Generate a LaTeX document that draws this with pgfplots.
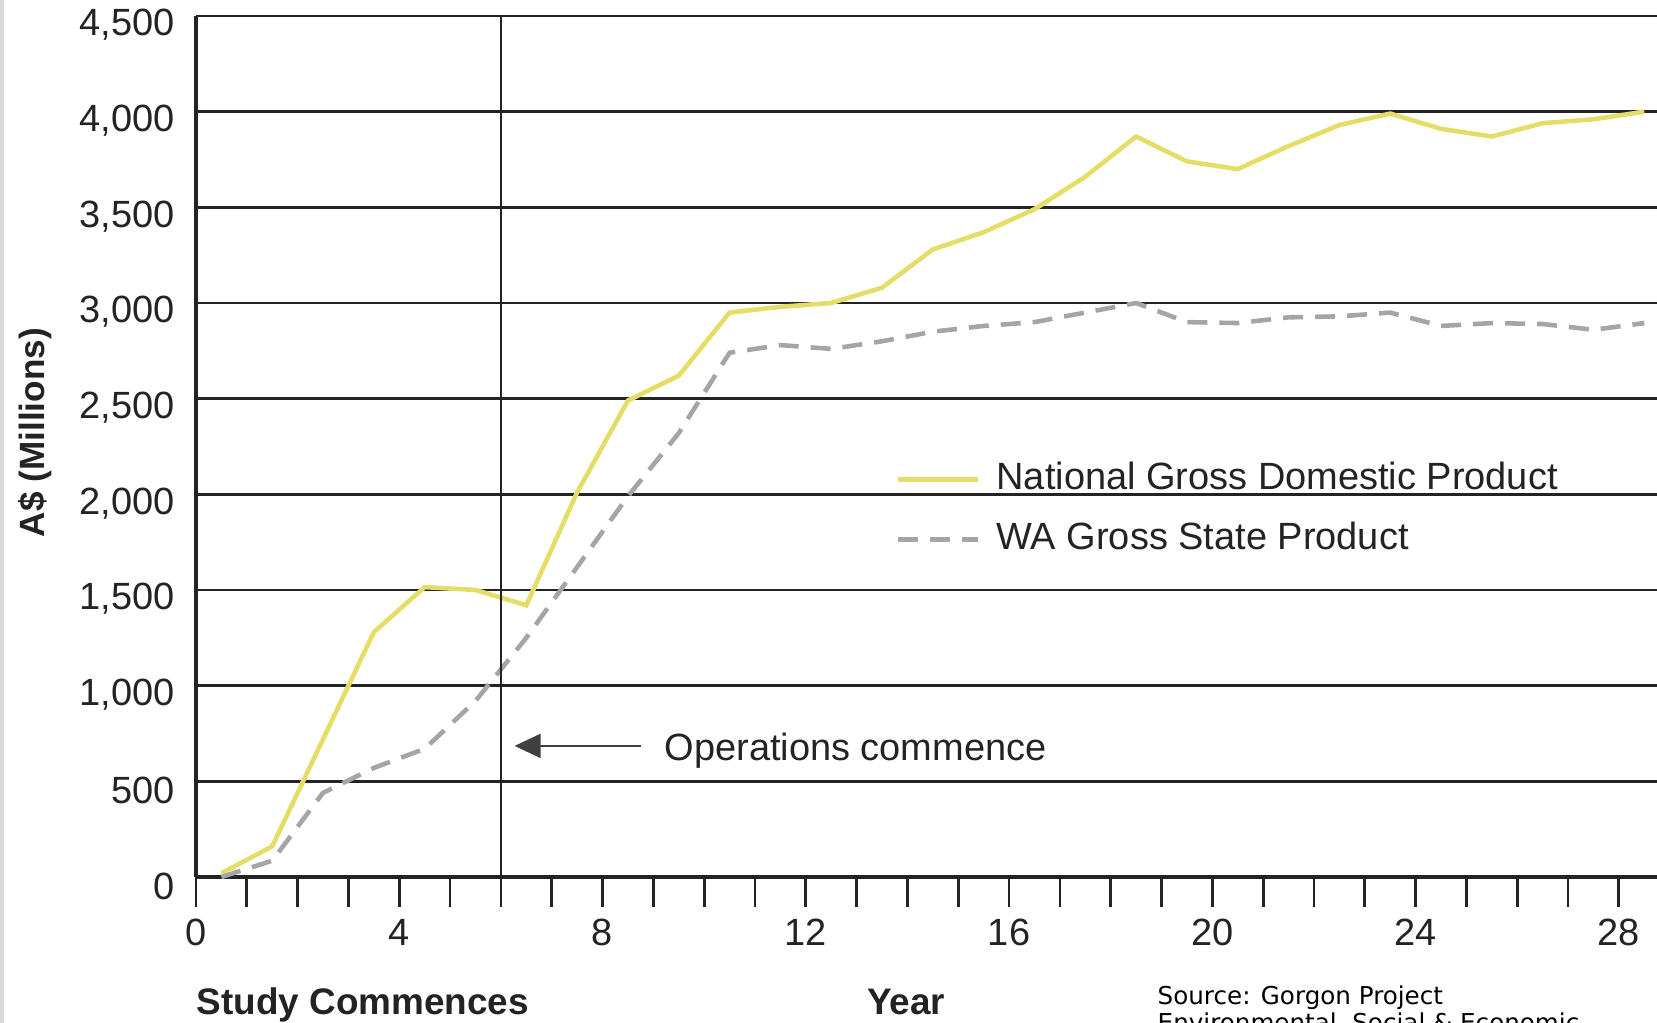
\documentclass[border=0pt]{standalone}
\usepackage{pgfplots}
\pgfplotsset{compat=1.18}
\usepackage{fontspec}
\setmainfont{Liberation Sans}
\newfontfamily\srcfont{DejaVu Sans}
\usetikzlibrary{arrows.meta}
\definecolor{gdp}{RGB}{228,222,105}
\definecolor{gsp}{RGB}{165,165,165}
\definecolor{gridc}{RGB}{35,35,35}
\definecolor{txt}{RGB}{35,35,35}

\begin{document}
\begin{tikzpicture}
\useasboundingbox (0,0) rectangle (16.57cm,10.23cm);
\fill[black!15] (0,0) rectangle (0.04cm,10.23cm);
\begin{axis}[
    at={(1.96cm,1.46cm)}, anchor=south west,
    scale only axis, width=14.61cm, height=8.61cm,
    xmin=0, xmax=28.75, ymin=0, ymax=4500,
    clip=false,
    axis x line*=bottom, axis y line*=left,
    axis line style={gridc, line width=0.9pt},
    xtick={0,4,...,28}, minor xtick={1,...,28},
    tick align=outside, major tick length=0.3cm, minor tick length=0.3cm,
    tick style={gridc, line width=0.8pt},
    ytick={0,500,...,4500}, ytick style={draw=none},
    ymajorgrids, major grid style={gridc, line width=0.8pt},
    /pgf/number format/assume math mode=true,
    /pgf/number format/1000 sep={,},
    tick label style={font=\fontsize{10.8}{13}\selectfont, text=txt},
    yticklabel style={xshift=2.1mm, yshift=-0.9mm},
    xlabel={\bfseries Year},
    xlabel style={at={(rel axis cs:0.486,-0.160)}, anchor=base, font=\fontsize{10.5}{12}\selectfont, text=txt},
    ylabel={\bfseries A\$ (Millions)},
    ylabel style={at={(rel axis cs:-0.110,0.516)}, anchor=center, font=\fontsize{10}{12}\selectfont, text=txt},
    legend cell align=left,
    legend image code/.code={\draw[#1] (0cm,0cm) -- (0.8cm,0cm);},
    legend style={at={(axis cs:13.76,2175)}, anchor=north west, draw=none, fill=none,
        inner sep=0pt, row sep=2.4mm, font=\fontsize{10.8}{13}\selectfont, text=txt,
        nodes={inner sep=0pt, text height=2.8mm, text depth=0.8mm},
        /tikz/every odd column/.append style={column sep=1.6mm}},
]
\addplot[gdp, line width=1.3pt] coordinates {
(0.5,20) (1.5,160) (2.5,720) (3.5,1280) (4.5,1515) (5.5,1500) (6.5,1420)
(7.5,2010) (8.5,2490) (9.5,2620) (10.5,2950) (11.5,2980) (12.5,3000)
(13.5,3080) (14.5,3280) (15.5,3370) (16.5,3490) (17.5,3660) (18.5,3870)
(19.5,3740) (20.5,3700) (21.5,3820) (22.5,3930) (23.5,3990) (24.5,3910)
(25.5,3870) (26.5,3940) (27.5,3960) (28.5,4000)};
\addlegendentry{National Gross Domestic Product}
\addplot[gsp, line width=1.3pt, dash pattern=on 2mm off 1.2mm] coordinates {
(0.5,0) (1.5,85) (2.5,440) (3.5,570) (4.5,670) (5.5,920) (6.5,1250)
(7.5,1620) (8.5,1990) (9.5,2320) (10.5,2740) (11.5,2780) (12.5,2760)
(13.5,2800) (14.5,2850) (15.5,2880) (16.5,2900) (17.5,2950) (18.5,3000)
(19.5,2900) (20.5,2895) (21.5,2925) (22.5,2930) (23.5,2950) (24.5,2880)
(25.5,2895) (26.5,2890) (27.5,2860) (28.5,2895)};
\addlegendentry{WA Gross State Product}

% operations start
\draw[gridc, line width=0.6pt] (axis cs:6,0) -- (axis cs:6,4500);
\draw[-{Triangle[length=2.6mm,width=2.4mm]}, black!75, line width=0.6pt]
    (axis cs:8.76,685) -- (axis cs:6.27,685);
\node[anchor=base west, inner sep=0pt, font=\fontsize{10.8}{13}\selectfont, text=txt]
    at (axis cs:9.21,609) {Operations commence};
\node[anchor=base west, inner sep=0pt, font=\bfseries\fontsize{10.5}{12}\selectfont, text=txt]
    at (rel axis cs:0,-0.160) {Study Commences};
\end{axis}
\node[anchor=base west, inner sep=0pt, font=\srcfont\fontsize{7}{8.5}\selectfont]
    at (11.57cm,0.18cm) {Source: Gorgon Project};
\node[anchor=base west, inner sep=0pt, font=\srcfont\fontsize{7}{8.5}\selectfont]
    at (11.57cm,-0.09cm) {Environmental, Social \& Economic};
\end{tikzpicture}
\end{document}
